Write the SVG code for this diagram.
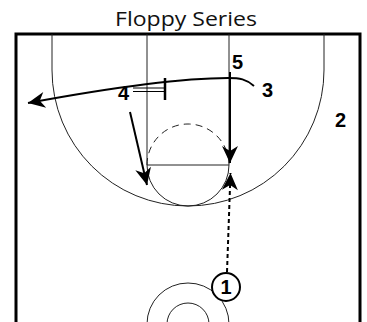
<svg xmlns="http://www.w3.org/2000/svg" width="367" height="322" viewBox="0 0 367 322">
<style>
.court{fill:none;stroke:#222;stroke-width:1}
.border{fill:none;stroke:#000;stroke-width:3}
.mv{fill:none;stroke:#000;stroke-width:2}
.lbl{font-family:"Liberation Sans",Arial,sans-serif;font-weight:bold;font-size:20px;fill:#000}
.title{font-family:"Open Sans","Noto Sans",sans-serif;font-size:20px;fill:#111}
</style>
<defs>
<marker id="ah" markerUnits="userSpaceOnUse" markerWidth="20" markerHeight="20" viewBox="-18 -9 20 18" refX="0" refY="0" orient="auto">
<path d="M0,0 L-17,-8 L-12,0 L-17,8 Z" fill="#000"/>
</marker>
</defs>
<rect width="367" height="322" fill="#fff"/>
<text class="title" x="186" y="26" text-anchor="middle" textLength="142" lengthAdjust="spacingAndGlyphs">Floppy Series</text>
<g id="court">
<path class="border" d="M16,330 V34 H360 V330"/>
<path class="court" d="M52,34 V70 A136,136 0 0 0 324,70 V34"/>
<path class="court" d="M147,34 V165 M229,34 V165 M147,165 H229"/>
<path class="court" d="M147,165 A41,41 0 0 0 229,165"/>
<path class="court" d="M147,165 A41,41 0 0 1 229,165" stroke-dasharray="7,5"/>
<circle class="court" cx="188" cy="324" r="41"/>
<circle class="court" cx="188" cy="324" r="21"/>
</g>
<g id="connectors">
<path class="mv" d="M254,86 C246,79 240,78 228,78 C190,78 120,86 28,103" marker-end="url(#ah)"/>
<path class="mv" d="M130,112 L147,185" marker-end="url(#ah)"/>
<path class="mv" d="M230,72 L230,163" marker-end="url(#ah)"/>
<path class="mv" d="M227,272 L230.5,173" stroke-dasharray="4,3" marker-end="url(#ah)"/>
<path fill="none" stroke="#000" stroke-width="1" d="M133,88 H165 M133,91.5 H165"/>
<path fill="none" stroke="#000" stroke-width="2.5" d="M165,78 V100"/>
</g>
<g id="p1"><circle cx="226" cy="287" r="14" fill="#fff" stroke="#000" stroke-width="2"/><text class="lbl" x="226" y="294" text-anchor="middle">1</text></g>
<g id="p2"><text class="lbl" x="335" y="127">2</text></g>
<g id="p3"><text class="lbl" x="262" y="97">3</text></g>
<g id="p4"><text class="lbl" x="118" y="100">4</text></g>
<g id="p5"><text class="lbl" x="232" y="69">5</text></g>
</svg>
